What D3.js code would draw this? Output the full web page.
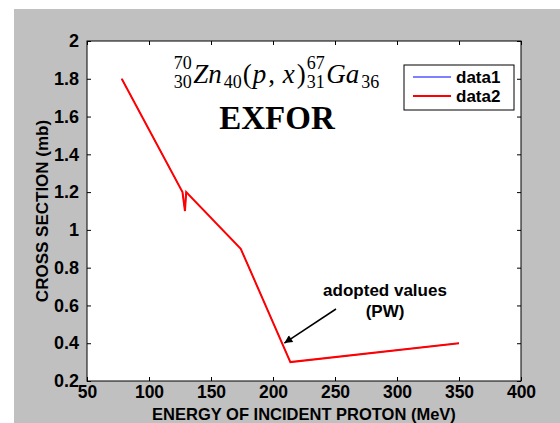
<!DOCTYPE html>
<html><head><meta charset="utf-8">
<script src="https://cdn.jsdelivr.net/npm/d3@7"></script>
<style>body{margin:0;background:#fff;overflow:hidden} svg{display:block}</style>
</head><body>
<script>
// ---- data ----
const energy1 = [78, 127, 129, 130, 174, 214, 350];
const cross1  = [1.8, 1.2, 1.1, 1.2, 0.9, 0.3, 0.4];
const energy2 = [78, 127, 129, 130, 174, 214, 350];
const cross2  = [1.8, 1.2, 1.1, 1.2, 0.9, 0.3, 0.4];
const seriesNames = ["data1", "data2"];
const xTicks = [50, 100, 150, 200, 250, 300, 350, 400];
const yTicks = [0.2, 0.4, 0.6, 0.8, 1, 1.2, 1.4, 1.6, 1.8, 2];
const xTitle = "ENERGY OF INCIDENT PROTON (MeV)";
const yTitle = "CROSS SECTION (mb)";
const annotLines = ["adopted values", "(PW)"];
const annotPoint = [214, 0.3];

const W = 560, H = 423;
const m = {l: 87, r: 521, t: 41, b: 381};
const svg = d3.select("body").append("svg").attr("width", W).attr("height", H);
svg.append("rect").attr("x", 14).attr("y", 9).attr("width", W - 14).attr("height", H - 9).attr("fill", "#c0c0c0");
svg.append("rect").attr("x", m.l).attr("y", m.t).attr("width", m.r - m.l).attr("height", m.b - m.t).attr("fill", "#fff");

const x = d3.scaleLinear().domain([50, 400]).range([m.l, m.r]);
const y = d3.scaleLinear().domain([0.2, 2]).range([m.b, m.t]);
const fmt = d3.format("~g");
const sans = "font-family:'Liberation Sans',Arial,sans-serif;font-weight:bold;";
const lab = sans + "font-size:17px";

// axes
const gx = svg.append("g").attr("transform", `translate(0,${m.b})`)
  .call(d3.axisBottom(x).tickValues(xTicks).tickFormat(fmt).tickSizeInner(-4).tickSizeOuter(0).tickPadding(5));
const gxt = svg.append("g").attr("transform", `translate(0,${m.t})`)
  .call(d3.axisTop(x).tickValues(xTicks).tickFormat("").tickSizeInner(-4).tickSizeOuter(0));
const gy = svg.append("g").attr("transform", `translate(${m.l},0)`)
  .call(d3.axisLeft(y).tickValues(yTicks).tickFormat(fmt).tickSizeInner(-4).tickSizeOuter(0).tickPadding(8));
const gyr = svg.append("g").attr("transform", `translate(${m.r},0)`)
  .call(d3.axisRight(y).tickValues(yTicks).tickFormat("").tickSizeInner(-4).tickSizeOuter(0));
[gx, gxt, gy, gyr].forEach(g => {
  g.select(".domain").remove();
  g.selectAll("line").attr("stroke", "#000");
  g.selectAll("text").attr("fill", "#000");
});
gx.selectAll("text").attr("style", sans + "font-size:17.5px");
gy.selectAll("text").attr("style", sans + "font-size:18px");
svg.append("rect").attr("x", m.l).attr("y", m.t).attr("width", m.r - m.l).attr("height", m.b - m.t)
  .attr("fill", "none").attr("stroke", "#000").attr("stroke-width", 1);

// titles
svg.append("text").attr("x", (m.l + m.r) / 2).attr("y", 420).attr("text-anchor", "middle")
  .attr("style", sans + "font-size:16.5px").text(xTitle);
svg.append("text").attr("transform", `translate(48,${(m.t + m.b) / 2}) rotate(-90)`).attr("text-anchor", "middle").attr("style", lab).text(yTitle);

// lines
const line = d3.line().x(d => x(d[0])).y(d => y(d[1]));
const d1 = energy1.map((e, i) => [e, cross1[i]]);
const d2 = energy2.map((e, i) => [e, cross2[i]]);
svg.append("path").attr("d", line(d1)).attr("fill", "none").attr("stroke", "#0000ff").attr("stroke-width", 1);
svg.append("path").attr("d", line(d2)).attr("fill", "none").attr("stroke", "#ff0000").attr("stroke-width", 2).attr("stroke-linejoin", "miter");

// formula
const serif = "'Liberation Serif','Times New Roman',serif";
const gF = svg.append("g");
const base = 83, big = 27, small = 18;
const items = [
  {stack: ["70", "30"]},
  {t: "Zn", it: true}, {t: "40", sub: true},
  {t: "(", it: false}, {t: "p", it: true}, {t: ", ", it: false}, {t: "x", it: true}, {t: ")", it: false},
  {stack: ["67", "31"]},
  {t: "Ga", it: true}, {t: "36", sub: true}
];
let cx = 0;
items.forEach(it => {
  if (it.stack) {
    const a = gF.append("text").attr("x", cx).attr("y", base - 14).attr("font-family", serif).attr("font-size", small).text(it.stack[0]);
    const b = gF.append("text").attr("x", cx).attr("y", base + 5).attr("font-family", serif).attr("font-size", small).text(it.stack[1]);
    cx += Math.max(a.node().getComputedTextLength(), b.node().getComputedTextLength()) + 1.5;
  } else {
    const tt = gF.append("text").attr("x", cx).attr("y", it.sub ? base + 5 : base).attr("font-family", serif)
      .attr("font-size", it.sub ? small : big).attr("font-style", it.it ? "italic" : "normal")
      .attr("xml:space", "preserve").style("white-space", "pre").text(it.t);
    cx += tt.node().getComputedTextLength() + (it.it ? 2 : 1);
  }
});
gF.attr("transform", `translate(${277 - cx / 2},0)`);
svg.append("text").attr("x", 277).attr("y", 129).attr("text-anchor", "middle").attr("font-family", serif)
  .attr("font-weight", "bold").attr("font-size", 33).text("EXFOR");

// legend
const lg = svg.append("g");
lg.append("rect").attr("x", 404).attr("y", 65).attr("width", 110).attr("height", 45).attr("fill", "#fff").attr("stroke", "#000");
const legCol = ["#0000ff", "#ff0000"], legW = [1, 2];
seriesNames.forEach((n, i) => {
  const yy = 77 + i * 19;
  lg.append("line").attr("x1", 413).attr("x2", 451).attr("y1", yy).attr("y2", yy).attr("stroke", legCol[i]).attr("stroke-width", legW[i]);
  lg.append("text").attr("x", 456).attr("y", yy + 6).attr("style", lab).text(n);
});

// annotation
const defs = svg.append("defs");
defs.append("marker").attr("id", "ah").attr("viewBox", "0 0 10 10").attr("refX", 10).attr("refY", 5)
  .attr("markerWidth", 11).attr("markerHeight", 8).attr("markerUnits", "userSpaceOnUse").attr("orient", "auto")
  .append("path").attr("d", "M0,0 L10,5 L0,10 Z").attr("fill", "#000");
const tip = [x(annotPoint[0]) - 6, y(annotPoint[1]) - 19];
svg.append("line").attr("x1", 336).attr("y1", 309).attr("x2", tip[0]).attr("y2", tip[1])
  .attr("stroke", "#000").attr("stroke-width", 1.5).attr("marker-end", "url(#ah)");
annotLines.forEach((s, i) => {
  svg.append("text").attr("x", 385).attr("y", 296 + i * 21).attr("text-anchor", "middle").attr("style", lab).text(s);
});
</script>
</body></html>
